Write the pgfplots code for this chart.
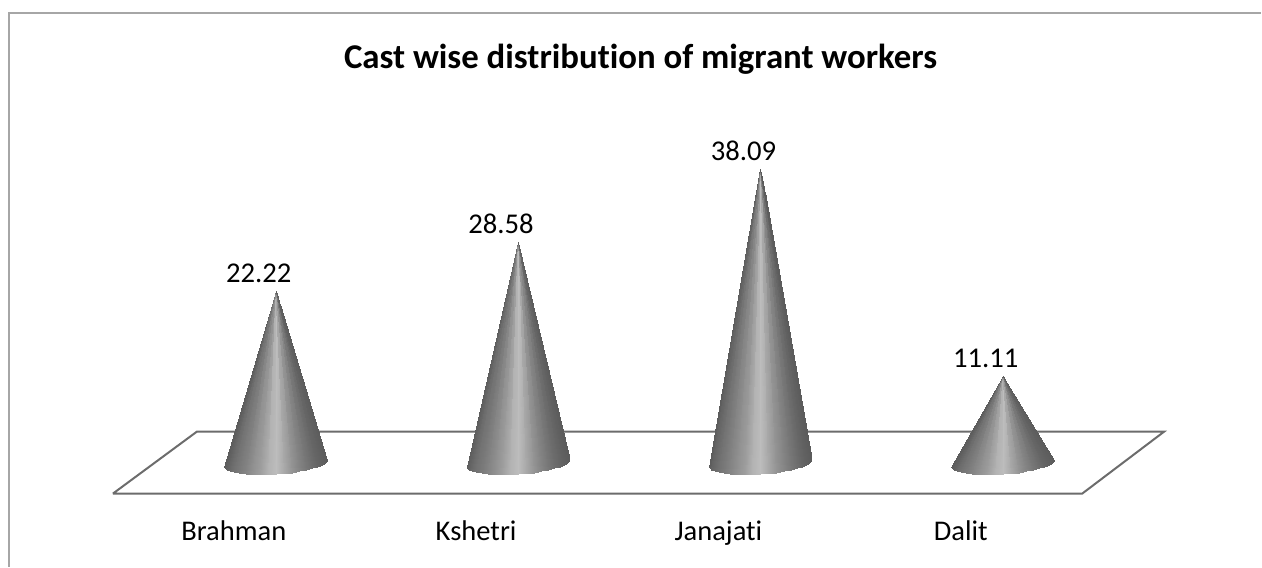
\documentclass[border=0pt]{standalone}
\usepackage{pgfplots}
\usepackage{pgfplotstable}
\usepackage{fontspec}
\setmainfont{Carlito}[Ligatures=NoCommon]
\pgfplotsset{compat=1.18}
% One strip of a cone surface per quad: b=0 at the lower end of the band, b=1 at the upper end; dx/dy are rim offsets, g the grey level
\pgfplotstableread[row sep=\\]{
b dx dy g\\
0 -.2124 -.649 .36\\ 0 -.2098 -.867 .37\\ 1 -.2098 -.867 .37\\ 1 -.2124 -.649 .36\\
0 -.2098 -.867 .37\\ 0 -.2020 -1.069 .39\\ 1 -.2020 -1.069 .39\\ 1 -.2098 -.867 .37\\
0 -.2020 -1.069 .39\\ 0 -.1892 -1.248 .42\\ 1 -.1892 -1.248 .42\\ 1 -.2020 -1.069 .39\\
0 -.1892 -1.248 .42\\ 0 -.1718 -1.402 .45\\ 1 -.1718 -1.402 .45\\ 1 -.1892 -1.248 .42\\
0 -.1718 -1.402 .45\\ 0 -.1502 -1.526 .48\\ 1 -.1502 -1.526 .48\\ 1 -.1718 -1.402 .45\\
0 -.1502 -1.526 .48\\ 0 -.1248 -1.618 .52\\ 1 -.1248 -1.618 .52\\ 1 -.1502 -1.526 .48\\
0 -.1248 -1.618 .52\\ 0 -.0964 -1.674 .57\\ 1 -.0964 -1.674 .57\\ 1 -.1248 -1.618 .52\\
0 -.0964 -1.674 .57\\ 0 -.0656 -1.694 .62\\ 1 -.0656 -1.694 .62\\ 1 -.0964 -1.674 .57\\
0 -.0656 -1.694 .62\\ 0 -.0332 -1.677 .70\\ 1 -.0332 -1.677 .70\\ 1 -.0656 -1.694 .62\\
0 -.0332 -1.677 .70\\ 0 0 -1.623 .74\\ 1 0 -1.623 .74\\ 1 -.0332 -1.677 .70\\
0 0 -1.623 .74\\ 0 .0332 -1.535 .66\\ 1 .0332 -1.535 .66\\ 1 0 -1.623 .74\\
0 .0332 -1.535 .66\\ 0 .0656 -1.413 .58\\ 1 .0656 -1.413 .58\\ 1 .0332 -1.535 .66\\
0 .0656 -1.413 .58\\ 0 .0964 -1.261 .52\\ 1 .0964 -1.261 .52\\ 1 .0656 -1.413 .58\\
0 .0964 -1.261 .52\\ 0 .1248 -1.083 .47\\ 1 .1248 -1.083 .47\\ 1 .0964 -1.261 .52\\
0 .1248 -1.083 .47\\ 0 .1502 -.884 .43\\ 1 .1502 -.884 .43\\ 1 .1248 -1.083 .47\\
0 .1502 -.884 .43\\ 0 .1718 -.667 .40\\ 1 .1718 -.667 .40\\ 1 .1502 -.884 .43\\
0 .1718 -.667 .40\\ 0 .1892 -.438 .38\\ 1 .1892 -.438 .38\\ 1 .1718 -.667 .40\\
0 .1892 -.438 .38\\ 0 .2020 -.204 .37\\ 1 .2020 -.204 .37\\ 1 .1892 -.438 .38\\
0 .2020 -.204 .37\\ 0 .2098 .031 .36\\ 1 .2098 .031 .36\\ 1 .2020 -.204 .37\\
0 .2098 .031 .36\\ 0 .2124 .260 .36\\ 1 .2124 .260 .36\\ 1 .2098 .031 .36\\
}\conefan
\pgfplotstableread{
x y lab
0 22.22 22.22
1 28.58 28.58
2 38.09 38.09
3 11.11 11.11
}\values
% #1 category position, #2 value, #3 fraction of the height where the band starts, #4 where it ends
\newcommand\coneband[4]{%
  \addplot[patch, patch type=rectangle, shader=interp, point meta=\thisrow{g}]
    table[x expr={#1+(1-(#3+(#4-#3)*\thisrow{b}))*\thisrow{dx}},
          y expr={(#3+(#4-#3)*\thisrow{b})*#2+(1-(#3+(#4-#3)*\thisrow{b}))*\thisrow{dy}}] {\conefan};}
\begin{document}
\begin{tikzpicture}
\begin{axis}[
  scale only axis, width=946.5pt, height=425.25pt,
  xmin=-1.13814, xmax=4.0660, ymin=-13.636, ymax=60,
  axis line style={draw=none}, tick style={draw=none},
  ytick=\empty, xtick={0,1,2,3},
  xticklabels={Brahman,Kshetri,Janajati,Dalit},
  xticklabel style={font=\fontsize{21.4}{25}\selectfont, anchor=base, xshift=-31.5pt, yshift=19.5pt},
  title={Cast wise distribution of migrant workers},
  title style={font=\fontsize{26.1}{30}\selectfont\bfseries, at={(axis description cs:0.508,0.882)}, anchor=center},
  colormap={bw}{gray(0cm)=(0); gray(1cm)=(1)},
  point meta min=0, point meta max=1,
  clip=false,
]
\draw[gray!70!white, line width=1.5pt] (rel axis cs:0.00713,0) -- (rel axis cs:0.00713,0.977) -- (rel axis cs:1,0.977);
\addplot[draw=gray!85!black, line width=1.5pt, no marks] coordinates {(-.6722,-4.156) (-.3258,3.896) (3.666,3.896) (3.328,-4.156) (-.6722,-4.156)};
\coneband{0}{22.22}{0}{.92}\coneband{0}{22.22}{.92}{1}
\coneband{1}{28.58}{0}{.92}\coneband{1}{28.58}{.92}{1}
\coneband{2}{38.09}{0}{.92}\coneband{2}{38.09}{.92}{1}
\coneband{3}{11.11}{0}{.92}\coneband{3}{11.11}{.92}{1}
\addplot[draw=none, no marks, point meta=explicit symbolic, nodes near coords,
  nodes near coords style={font=\fontsize{21.5}{25}\selectfont, anchor=base, xshift=-12.75pt, yshift=6.25pt, text=black}]
  table[x=x, y=y, meta=lab] {\values};
\end{axis}
\end{tikzpicture}
\end{document}
